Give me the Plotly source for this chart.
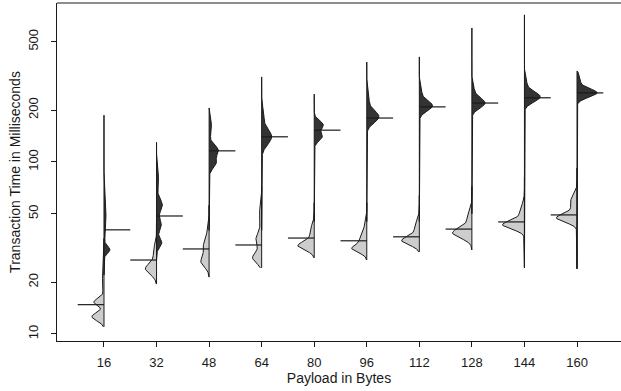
import numpy as np
import plotly.graph_objects as go

# ---------------- data ----------------
payload = [16, 32, 48, 64, 80, 96, 112, 128, 144, 160]

# left half (light): data range in ms
light_min = [11.0, 19.5, 21.4, 24.2, 27.7, 26.9, 30.0, 30.8, 24.2, 23.9]
light_max = [36, 52, 56, 72, 58, 58, 64, 72, 82, 92]
light_mean = [14.8, 26.9, 31.2, 32.9, 36.1, 34.8, 36.7, 40.7, 44.8, 49.2]
# density bumps: (centre ms, spread in log10 units, half-width in category units)
light_bumps = [
    [(15.3, 0.020, 0.19), (12.6, 0.024, 0.23), (20.0, 0.06, 0.03)],
    [(23.9, 0.032, 0.21), (30.0, 0.04, 0.06)],
    [(26.2, 0.030, 0.15), (31.6, 0.035, 0.11), (38.0, 0.04, 0.04)],
    [(27.7, 0.030, 0.17), (35.2, 0.040, 0.11), (49.0, 0.05, 0.045)],
    [(32.5, 0.025, 0.30), (39.0, 0.040, 0.08)],
    [(31.2, 0.022, 0.26), (35.2, 0.030, 0.11), (40.3, 0.04, 0.05)],
    [(34.8, 0.025, 0.32), (41.3, 0.040, 0.09)],
    [(38.6, 0.030, 0.36), (47.2, 0.040, 0.09)],
    [(43.0, 0.025, 0.40), (51.0, 0.040, 0.09)],
    [(47.2, 0.025, 0.38), (57.8, 0.040, 0.13)],
]

# right half (dark)
dark_min = [22, 27, 40, 40, 45, 45, 45, 50, 24.5, 24.0]
dark_max = [187, 130, 206, 312, 248, 381, 408, 601, 716, 338]
dark_mean = [40.3, 48.5, 116, 140, 153, 180, 209, 220, 236, 252]
dark_bumps = [
    [(30.8, 0.020, 0.11), (46.0, 0.080, 0.04)],
    [(56.0, 0.035, 0.11), (33.8, 0.025, 0.10), (43.0, 0.035, 0.09), (78.0, 0.05, 0.04)],
    [(117, 0.030, 0.17), (98.6, 0.030, 0.13), (158, 0.04, 0.05)],
    [(140, 0.045, 0.19), (187, 0.04, 0.04)],
    [(164, 0.025, 0.17), (140, 0.025, 0.15)],
    [(183, 0.035, 0.23), (229, 0.04, 0.04)],
    [(212, 0.030, 0.25), (255, 0.03, 0.04)],
    [(220, 0.030, 0.25), (262, 0.03, 0.04)],
    [(239, 0.030, 0.30), (288, 0.03, 0.04)],
    [(252, 0.025, 0.38), (300, 0.03, 0.06)],
]

y_ticks = [10, 20, 50, 100, 200, 500]

# ---------------- drawing ----------------
LIGHT = "#CDCDCD"
DARK = "#333333"
INK = "#1a1a1a"
FONT = "Liberation Sans, Arial, Helvetica, sans-serif"

def density(lo, hi, bumps, n=400):
    g = np.linspace(np.log10(lo), np.log10(hi), n)
    d = np.zeros_like(g)
    for c, sd, w in bumps:
        d += w * np.exp(-0.5 * ((g - np.log10(c)) / sd) ** 2)
    return 10 ** g, d

fig = go.Figure()
for i in range(len(payload)):
    pos = i + 1
    # light (left) half
    yv, d = density(light_min[i], light_max[i], light_bumps[i])
    xs = list(pos - d) + [pos, pos]
    ys = list(yv) + [yv[-1], yv[0]]
    fig.add_trace(go.Scatter(x=xs, y=ys, mode="lines", fill="toself",
                             fillcolor=LIGHT, line=dict(color=INK, width=1),
                             hoverinfo="skip", showlegend=False))
    # dark (right) half
    yv, d = density(dark_min[i], dark_max[i], dark_bumps[i])
    xs = list(pos + d) + [pos, pos]
    ys = list(yv) + [yv[-1], yv[0]]
    fig.add_trace(go.Scatter(x=xs, y=ys, mode="lines", fill="toself",
                             fillcolor=DARK, line=dict(color=INK, width=1),
                             hoverinfo="skip", showlegend=False))
for i in range(len(payload)):
    pos = i + 1
    fig.add_trace(go.Scatter(x=[pos - 0.5, pos], y=[light_mean[i]] * 2, mode="lines",
                             line=dict(color=INK, width=1.2), showlegend=False,
                             hoverinfo="skip"))
    fig.add_trace(go.Scatter(x=[pos, pos + 0.5], y=[dark_mean[i]] * 2, mode="lines",
                             line=dict(color=INK, width=1.2), showlegend=False,
                             hoverinfo="skip"))

fig.update_layout(
    width=621, height=391,
    margin=dict(l=57, r=0, t=3, b=50),
    paper_bgcolor="white", plot_bgcolor="white",
    font=dict(family=FONT, size=13, color=INK),
    showlegend=False,
    shapes=[dict(type="line", xref="paper", yref="paper", x0=0, x1=1, y0=1, y1=1,
                 line=dict(color=INK, width=1))],
)
fig.update_xaxes(
    range=[0.106, 10.837], tickmode="array",
    tickvals=list(range(1, len(payload) + 1)), ticktext=[str(p) for p in payload],
    showgrid=False, zeroline=False, showline=True, linecolor=INK, linewidth=1,
    ticks="outside", ticklen=5, tickcolor=INK, ticklabelstandoff=4,
    title=dict(text="Payload in Bytes", standoff=3, font=dict(size=14)),
)
fig.update_yaxes(
    type="log", range=[0.959, 2.924], tickmode="array",
    tickvals=y_ticks, ticktext=[str(t) for t in y_ticks], tickangle=-90,
    showgrid=False, zeroline=False, showline=True, linecolor=INK, linewidth=1,
    ticks="outside", ticklen=5, tickcolor=INK, ticklabelstandoff=8,
    title=dict(text="Transaction Time in Milliseconds", standoff=1, font=dict(size=14)),
)

fig.write_html("out.html")
